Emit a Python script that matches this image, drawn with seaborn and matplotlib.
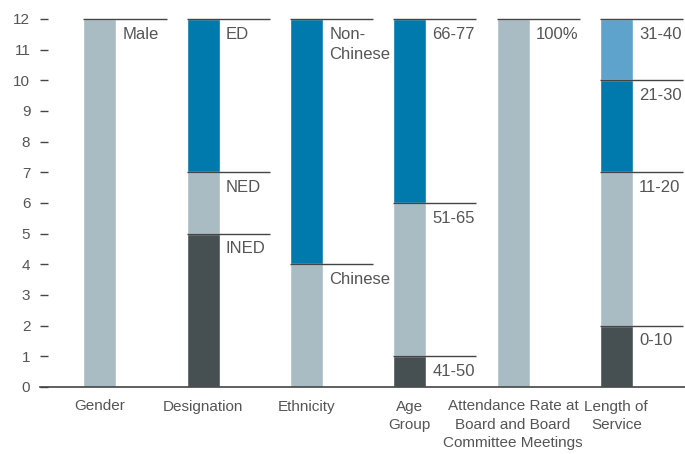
import matplotlib
matplotlib.use("Agg")
import matplotlib.pyplot as plt
import pandas as pd
import seaborn as sns

# Board composition: each category is a stack of segments, listed bottom to top
categories = [
    "Gender",
    "Designation",
    "Ethnicity",
    "Age\nGroup",
    "Attendance Rate at\nBoard and Board\nCommittee Meetings",
    "Length of\nService",
]

gender_labels = ["Male"]
gender_counts = [12]

designation_labels = ["INED", "NED", "ED"]
designation_counts = [5, 2, 5]

ethnicity_labels = ["Chinese", "Non-\nChinese"]
ethnicity_counts = [4, 8]

age_labels = ["41-50", "51-65", "66-77"]
age_counts = [1, 5, 6]

attendance_labels = ["100%"]
attendance_counts = [12]

service_labels = ["0-10", "11-20", "21-30", "31-40"]
service_counts = [2, 5, 3, 2]

segment_colors = {
    "Male": "#a9bcc4",
    "INED": "#465053", "NED": "#a9bcc4", "ED": "#0079ad",
    "Chinese": "#a9bcc4", "Non-\nChinese": "#0079ad",
    "41-50": "#465053", "51-65": "#a9bcc4", "66-77": "#0079ad",
    "100%": "#a9bcc4",
    "0-10": "#465053", "11-20": "#a9bcc4", "21-30": "#0079ad", "31-40": "#5ea3cb",
}

groups = [
    (gender_labels, gender_counts),
    (designation_labels, designation_counts),
    (ethnicity_labels, ethnicity_counts),
    (age_labels, age_counts),
    (attendance_labels, attendance_counts),
    (service_labels, service_counts),
]

rows = []
for cat, (labels, counts) in zip(categories, groups):
    top = 0
    for level, (lab, cnt) in enumerate(zip(labels, counts)):
        top += cnt
        rows.append({"category": cat, "segment": lab, "level": level, "top": top})
df = pd.DataFrame(rows)

sns.set_theme(style="white")
plt.rcParams["font.family"] = ["Liberation Sans", "DejaVu Sans"]

text_color = "#555555"
line_color = "#444444"
bar_w = 0.32

fig = plt.figure(figsize=(6.85, 4.54), dpi=100)
ax = fig.add_axes([40 / 685, 67 / 454, 645 / 685, 368 / 454])

# Draw cumulative tops from the highest level down so lower segments overlay
for level in sorted(df["level"].unique(), reverse=True):
    sub = df[df["level"] == level]
    sns.barplot(
        data=sub, x="category", y="top", hue="segment", order=categories,
        palette=segment_colors, dodge=False, width=bar_w, saturation=1,
        legend=False, ax=ax, errorbar=None,
    )

# Leader lines and segment labels
for _, r in df.iterrows():
    pos = categories.index(r["category"])
    left = pos - bar_w / 2
    ax.plot([left, left + 0.805], [r["top"], r["top"]], color=line_color,
            lw=1.0, solid_capstyle="butt", clip_on=False, zorder=3)
    ax.annotate(r["segment"], xy=(pos + bar_w / 2, r["top"]),
                xytext=(4.5, -5.5), textcoords="offset points",
                ha="left", va="top", fontsize=12, color=text_color,
                linespacing=1.45)

ax.set_xlim(-0.58, 5.665)
ax.set_ylim(0, 12)
ax.set_yticks(range(0, 13))
ax.set_xlabel("")
ax.set_ylabel("")

for side in ["left", "top", "right"]:
    ax.spines[side].set_visible(False)
ax.spines["bottom"].set_color(line_color)
ax.spines["bottom"].set_linewidth(1.2)

ax.tick_params(axis="y", direction="in", length=6, width=1, color=line_color,
               pad=7, labelsize=11, labelcolor=text_color, left=True)
ax.tick_params(axis="x", length=0, pad=9, labelsize=11, labelcolor=text_color)
for t in ax.get_xticklabels():
    t.set_linespacing(1.38)

fig.savefig("out.png", dpi=100)
